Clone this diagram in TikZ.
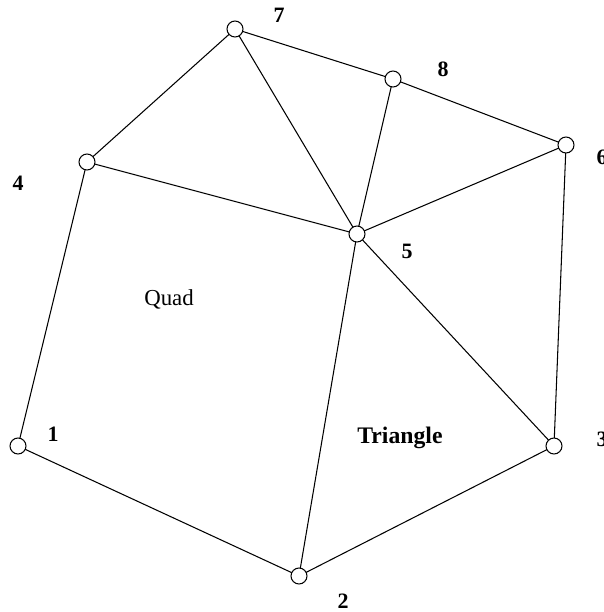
\documentclass[tikz,border=0pt]{standalone}
\usepackage{fontspec}
\setmainfont{Liberation Serif}
\usepackage{tikz}
\usetikzlibrary{positioning}

\tikzset{
  pt/.style={circle, draw, fill=white, inner sep=0pt, minimum size=0.32cm, line width=0.6pt},
  num/.style={font=\bfseries\fontsize{12.5}{14}\selectfont, inner sep=0pt},
  edge/.style={line width=0.6pt}
}

\begin{document}
\begin{tikzpicture}[x=0.02cm, y=-0.02cm]
\useasboundingbox (0,0) rectangle (603,612);

% mesh nodes
\coordinate (p1) at (18,446);
\coordinate (p2) at (299,576);
\coordinate (p3) at (554,446);
\coordinate (p4) at (87,162);
\coordinate (p5) at (357,234);
\coordinate (p6) at (566,145);
\coordinate (p7) at (235,29);
\coordinate (p8) at (393,79);

% element edges
\draw[edge] (p1) -- (p4) -- (p5) -- (p2) -- cycle;
\draw[edge] (p2) -- (p3) -- (p5);
\draw[edge] (p3) -- (p6) -- (p5);
\draw[edge] (p4) -- (p7) -- (p5);
\draw[edge] (p7) -- (p8) -- (p5);
\draw[edge] (p8) -- (p6);

\foreach \i in {1,...,8}
  \node[pt] (n\i) at (p\i) {};

% node numbers
\node[num] (l1) at (53,434) {1};
\node[num] (l2) at (343,601) {2};
\node[num] (l3) at (602,439) {3};
\node[num] (l4) at (18,183) {4};
\node[num] (l5) at (407,251) {5};
\node[num] (l6) at (602,157) {6};
\node[num] (l7) at (279,15) {7};
\node[num] (l8) at (443,69) {8};

% element names
\node[font=\fontsize{13}{15}\selectfont] (quad) at (169,299) {Quad};
\node[font=\bfseries\fontsize{13.5}{15}\selectfont] (tri) at (400,438) {Triangle};
\end{tikzpicture}
\end{document}
